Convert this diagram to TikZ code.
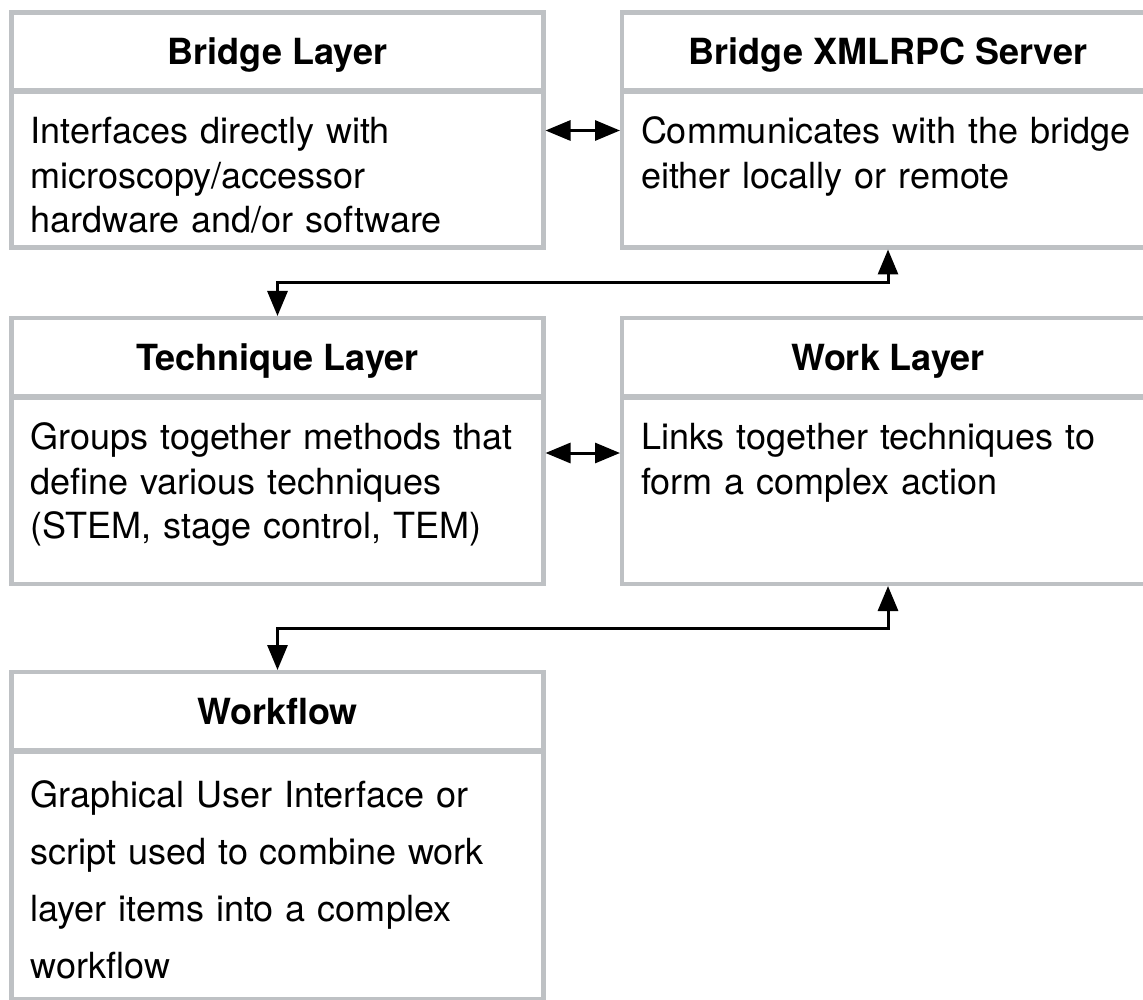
\documentclass[tikz,border=0pt]{standalone}
\usepackage{fontspec}
\setmainfont{TeX Gyre Heros}
\usetikzlibrary{arrows.meta,positioning}
\definecolor{layergray}{RGB}{190,193,196}
\tikzset{
  layerhead/.style={draw=layergray,line width=4.5pt,outer sep=0pt,inner sep=0pt,
    minimum width=532pt,minimum height=78pt,
    font=\fontsize{36}{44.5}\selectfont\bfseries,text height=26pt,text depth=0pt},
  layerbody/.style={draw=layergray,line width=4.5pt,outer sep=0pt,
    inner xsep=19pt,inner ysep=0pt,minimum width=532pt,text width=494pt,align=left,
    font=\fontsize{36}{44.5}\selectfont,text height=52pt},
  biflow/.style={{Triangle[length=25pt,width=20pt]}-{Triangle[length=25pt,width=20pt]},
    line width=3pt,shorten <=2pt,shorten >=2pt}
}

\begin{document}
\begin{tikzpicture}[x=1pt,y=-1pt]
  \path[use as bounding box,fill=white] (0,0) rectangle (1143,1000);
  \clip (0,0) rectangle (1143,1000);
  % top row
  \node[layerhead] (bridgehead) at (277.5,51.5) {Bridge Layer};
  \node[layerbody,text depth=103.5pt,below=1.5pt of bridgehead] (bridgebody)
    {Interfaces directly with\\microscopy/accessor\\hardware and/or software};
  \node[layerhead] (serverhead) at (888,51.5) {Bridge XMLRPC Server};
  \node[layerbody,text depth=103.5pt,below=1.5pt of serverhead] (serverbody)
    {Communicates with the bridge\\either locally or remote};
  % middle row
  \node[layerhead] (techhead) at (277.5,357) {Technique Layer};
  \node[layerbody,text depth=134.5pt,below=1.5pt of techhead] (techbody)
    {Groups together methods that\\define various techniques\\(STEM, stage control, TEM)};
  \node[layerhead] (workhead) at (888,357) {Work Layer};
  \node[layerbody,text depth=134.5pt,below=1.5pt of workhead] (workbody)
    {Links together techniques to\\form a complex action};
  % bottom row
  \node[layerhead] (flowhead) at (277.5,711) {Workflow};
  \node[layerbody,font=\fontsize{36}{57}\selectfont,text height=56pt,text depth=191.5pt,
    below=1.5pt of flowhead] (flowbody)
    {Graphical User Interface or\\script used to combine work\\layer items into a complex\\workflow};
  \draw[biflow] ([yshift=-38.5pt]bridgebody.north east) -- ([yshift=-38.5pt]serverbody.north west);
  \draw[biflow] ([yshift=-55.5pt]techbody.north east) -- ([yshift=-55.5pt]workbody.north west);
  \draw[biflow] (techhead.north) -- ++(0,-35) -| (serverbody.south);
  \draw[biflow] (flowhead.north) -- ++(0,-44) -| (workbody.south);
\end{tikzpicture}
\end{document}
